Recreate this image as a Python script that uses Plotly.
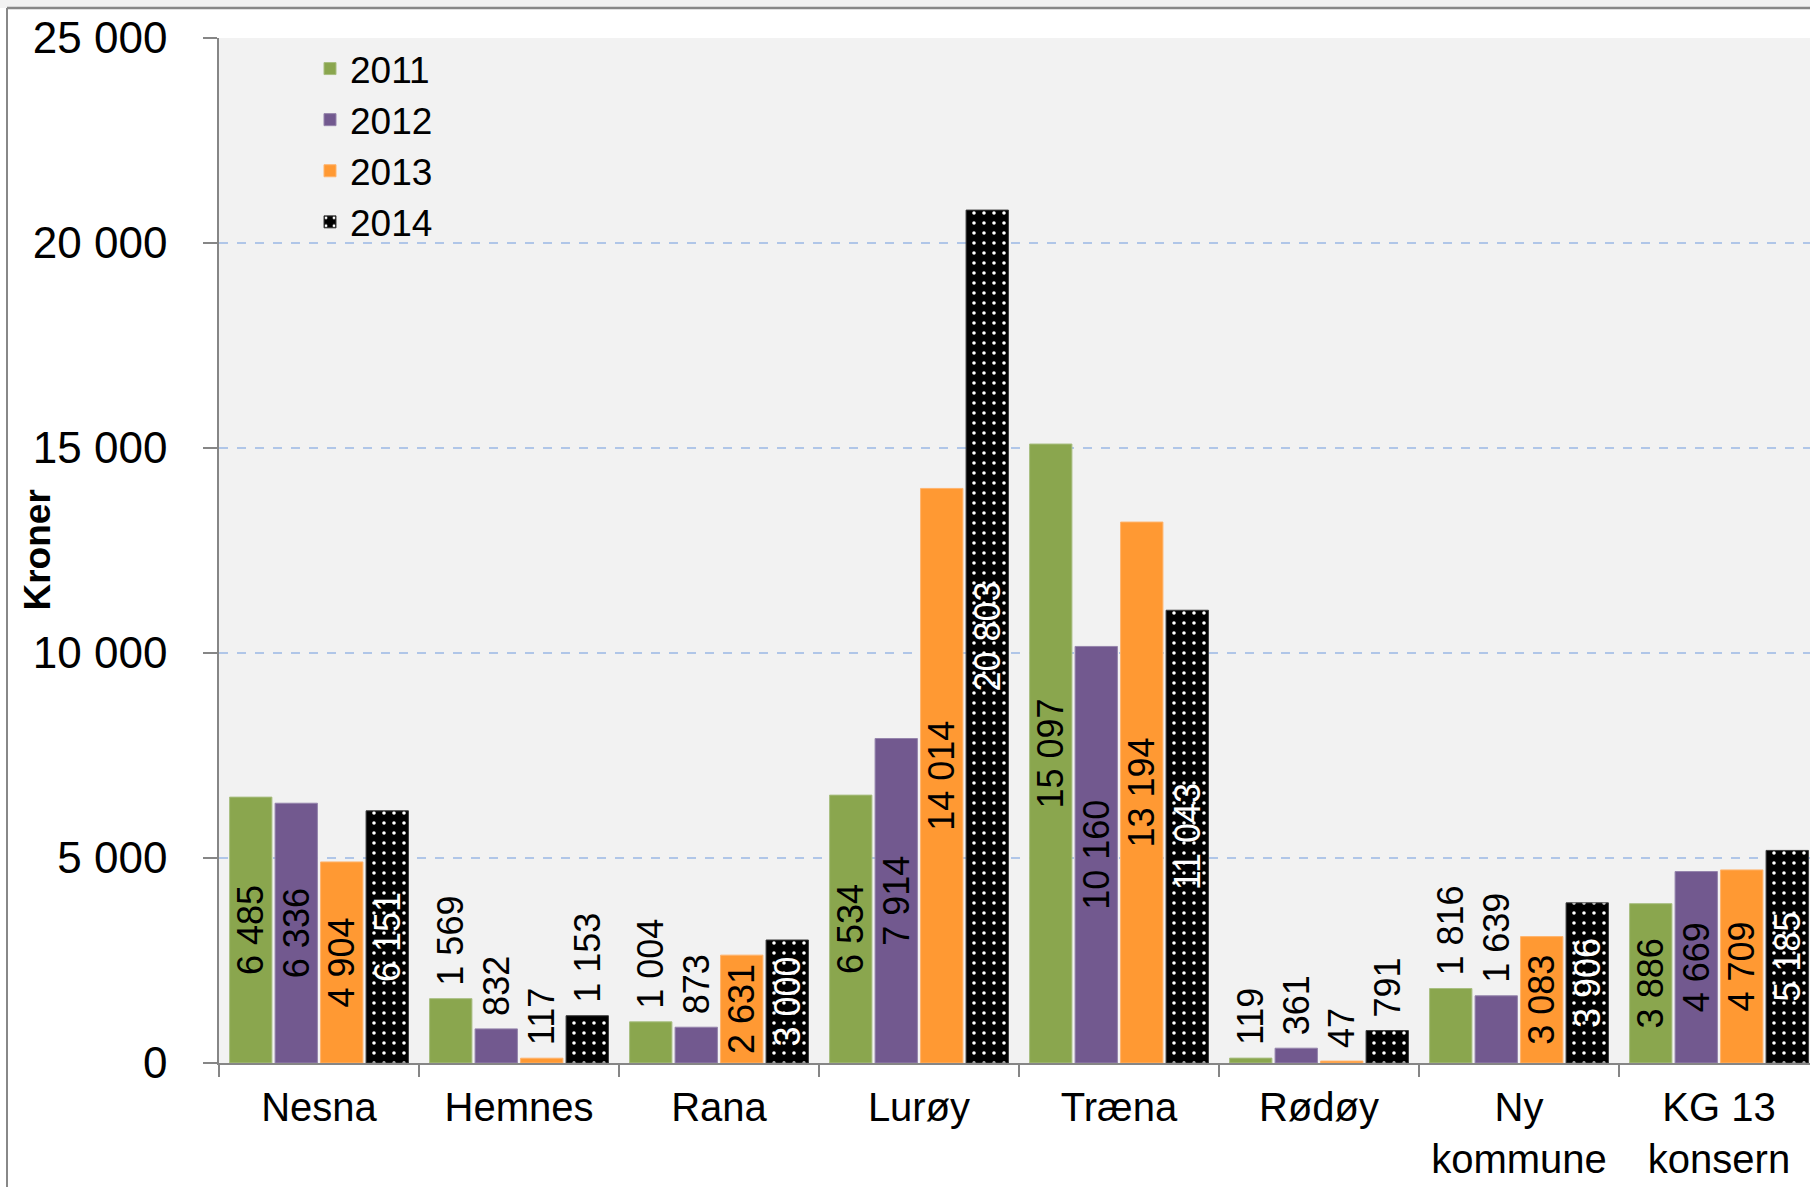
import plotly.graph_objects as go

categories = ["Nesna", "Hemnes", "Rana", "Lurøy", "Træna", "Rødøy", "Ny<br>kommune", "KG 13<br>konsern"]
years = ["2011", "2012", "2013", "2014"]
v2011 = [6485, 1569, 1004, 6534, 15097, 119, 1816, 3886]
v2012 = [6336, 832, 873, 7914, 10160, 361, 1639, 4669]
v2013 = [4904, 117, 2631, 14014, 13194, 47, 3083, 4709]
v2014 = [6151, 1153, 3000, 20803, 11043, 791, 3906, 5185]
y_ticks = [0, 5000, 10000, 15000, 20000, 25000]

series = [v2011, v2012, v2013, v2014]
colors = ["#8AA64E", "#72598F", "#FF9933", "#000000"]
edges = ["#A8BE80", "#9584AC", "#FFB36B", "#3A3A3A"]
inside_txt = ["#000000", "#000000", "#000000", "#FFFFFF"]

W, H = 1810, 1187
L, T, B = 219, 38, 124
plot_w = W - L
plot_h = H - T - B

FONT = "Liberation Sans, Arial, sans-serif"

fig = go.Figure()
for i, (yr, vals) in enumerate(zip(years, series)):
    pos = ["inside" if v > 2000 else "outside" for v in vals]
    tmpl = ["%{y:,d}" if p == "inside" else "\u00a0%{y:,d}" for p in pos]
    marker = dict(color=colors[i], line=dict(color=edges[i], width=1))
    if yr == "2014":
        marker["pattern"] = dict(shape=".", bgcolor="#000000", fgcolor="#FFFFFF",
                                 size=10, solidity=0.1, fillmode="replace")
    fig.add_trace(go.Bar(
        name=yr, x=categories, y=vals, marker=marker,
        texttemplate=tmpl, textposition=pos, textangle=-90,
        insidetextanchor="middle", constraintext="none", cliponaxis=False,
        insidetextfont=dict(family=FONT, size=36, color=inside_txt[i]),
        outsidetextfont=dict(family=FONT, size=36, color="#000000"),
        hoverinfo="skip",
    ))

px0 = (7 - L) / plot_w
py_top = 1 + (T - 8) / plot_h
py_fig_top = 1 + T / plot_h
py_fig_bot = -(B) / plot_h

fig.update_layout(
    width=W, height=H,
    margin=dict(l=L, r=0, t=T, b=B, pad=0),
    paper_bgcolor="#FFFFFF", plot_bgcolor="#F2F2F2",
    separators=", ",
    barmode="group", bargap=0.09, bargroupgap=0.07,
    font=dict(family=FONT, color="#000000"),
    showlegend=True,
    legend=dict(x=(310 - L) / plot_w, y=1.0, xanchor="left", yanchor="top",
                bgcolor="rgba(0,0,0,0)", font=dict(family=FONT, size=37),
                tracegroupgap=0, itemwidth=30),
    xaxis=dict(range=[-0.5, -0.5 + plot_w / 200], tickson="boundaries",
               ticks="outside", ticklen=12, tickcolor="#868686", tickwidth=1.5,
               showline=True, linecolor="#868686", linewidth=1.5,
               showgrid=False, tickfont=dict(family=FONT, size=40),
               ticklabelstandoff=8, fixedrange=True),
    yaxis=dict(range=[0, 25000], tickvals=y_ticks, tickformat=",d",
               ticks="outside", ticklen=14, tickcolor="#868686", tickwidth=1.5,
               showline=True, linecolor="#868686", linewidth=1.5,
               showgrid=True, gridcolor="#B0C6E8", gridwidth=1.5, griddash="dash",
               zeroline=False, tickfont=dict(family=FONT, size=44),
               ticklabelstandoff=27, fixedrange=True),
    shapes=[
        dict(type="rect", xref="paper", yref="paper", x0=px0 - 0.2, x1=1.1,
             y0=py_top, y1=py_fig_top + 0.01, fillcolor="#F2F2F2", line=dict(width=0)),
        dict(type="line", xref="paper", yref="paper", x0=px0, x1=1.1,
             y0=py_top, y1=py_top, line=dict(color="#888888", width=2.5)),
        dict(type="line", xref="paper", yref="paper", x0=px0, x1=px0,
             y0=py_top, y1=py_fig_bot - 0.01, line=dict(color="#888888", width=2)),
    ],
    annotations=[
        dict(text="<b>Kroner</b>", xref="paper", yref="paper",
             x=(37 - L) / plot_w, y=0.5, xanchor="center", yanchor="middle",
             textangle=-90, showarrow=False, font=dict(family=FONT, size=37)),
    ],
)

fig.write_html("out.html", config={"displayModeBar": False},
               post_script="document.body.style.margin='0';document.body.style.overflow='hidden';")
